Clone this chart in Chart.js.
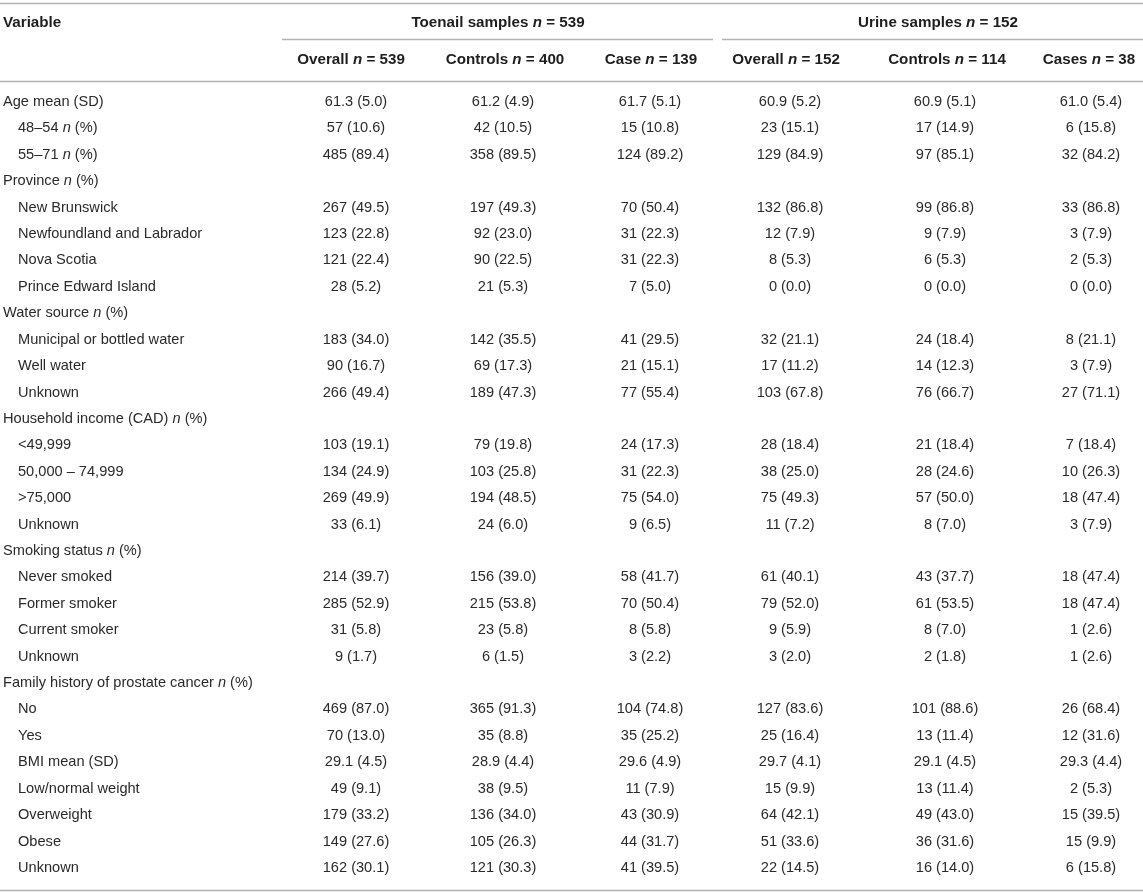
<!DOCTYPE html>
<html>
<head>
<meta charset="utf-8">
<script src="https://cdn.jsdelivr.net/npm/chart.js@4.4.1/dist/chart.umd.min.js"></script>
<style>
  html, body { margin: 0; padding: 0; background: #fff; }
  canvas { display: block; }
</style>
</head>
<body>
<canvas id="tableChart" width="1143" height="893"></canvas>
<script>
// table content
var rowLabels = [
    'Age mean (SD)', '48–54 n (%)', '55–71 n (%)',
    'Province n (%)', 'New Brunswick', 'Newfoundland and Labrador', 'Nova Scotia', 'Prince Edward Island',
    'Water source n (%)', 'Municipal or bottled water', 'Well water', 'Unknown',
    'Household income (CAD) n (%)', '<49,999', '50,000 – 74,999', '>75,000', 'Unknown',
    'Smoking status n (%)', 'Never smoked', 'Former smoker', 'Current smoker', 'Unknown',
    'Family history of prostate cancer n (%)', 'No', 'Yes', 'BMI mean (SD)',
    'Low/normal weight', 'Overweight', 'Obese', 'Unknown'
];
// 0 = section row, 1 = indented sub row
var rowLevel = [0,1,1, 0,1,1,1,1, 0,1,1,1, 0,1,1,1,1, 0,1,1,1,1, 0,1,1,1,1,1,1,1];

var groupHeaders = ['Toenail samples n = 539', 'Urine samples n = 152'];
var columnHeaders = ['Overall n = 539', 'Controls n = 400', 'Case n = 139',
                     'Overall n = 152', 'Controls n = 114', 'Cases n = 38'];

var toenailOverall = ['61.3 (5.0)','57 (10.6)','485 (89.4)','','267 (49.5)','123 (22.8)','121 (22.4)','28 (5.2)','',
    '183 (34.0)','90 (16.7)','266 (49.4)','','103 (19.1)','134 (24.9)','269 (49.9)','33 (6.1)','',
    '214 (39.7)','285 (52.9)','31 (5.8)','9 (1.7)','','469 (87.0)','70 (13.0)','29.1 (4.5)',
    '49 (9.1)','179 (33.2)','149 (27.6)','162 (30.1)'];
var toenailControls = ['61.2 (4.9)','42 (10.5)','358 (89.5)','','197 (49.3)','92 (23.0)','90 (22.5)','21 (5.3)','',
    '142 (35.5)','69 (17.3)','189 (47.3)','','79 (19.8)','103 (25.8)','194 (48.5)','24 (6.0)','',
    '156 (39.0)','215 (53.8)','23 (5.8)','6 (1.5)','','365 (91.3)','35 (8.8)','28.9 (4.4)',
    '38 (9.5)','136 (34.0)','105 (26.3)','121 (30.3)'];
var toenailCases = ['61.7 (5.1)','15 (10.8)','124 (89.2)','','70 (50.4)','31 (22.3)','31 (22.3)','7 (5.0)','',
    '41 (29.5)','21 (15.1)','77 (55.4)','','24 (17.3)','31 (22.3)','75 (54.0)','9 (6.5)','',
    '58 (41.7)','70 (50.4)','8 (5.8)','3 (2.2)','','104 (74.8)','35 (25.2)','29.6 (4.9)',
    '11 (7.9)','43 (30.9)','44 (31.7)','41 (39.5)'];
var urineOverall = ['60.9 (5.2)','23 (15.1)','129 (84.9)','','132 (86.8)','12 (7.9)','8 (5.3)','0 (0.0)','',
    '32 (21.1)','17 (11.2)','103 (67.8)','','28 (18.4)','38 (25.0)','75 (49.3)','11 (7.2)','',
    '61 (40.1)','79 (52.0)','9 (5.9)','3 (2.0)','','127 (83.6)','25 (16.4)','29.7 (4.1)',
    '15 (9.9)','64 (42.1)','51 (33.6)','22 (14.5)'];
var urineControls = ['60.9 (5.1)','17 (14.9)','97 (85.1)','','99 (86.8)','9 (7.9)','6 (5.3)','0 (0.0)','',
    '24 (18.4)','14 (12.3)','76 (66.7)','','21 (18.4)','28 (24.6)','57 (50.0)','8 (7.0)','',
    '43 (37.7)','61 (53.5)','8 (7.0)','2 (1.8)','','101 (88.6)','13 (11.4)','29.1 (4.5)',
    '13 (11.4)','49 (43.0)','36 (31.6)','16 (14.0)'];
var urineCases = ['61.0 (5.4)','6 (15.8)','32 (84.2)','','33 (86.8)','3 (7.9)','2 (5.3)','0 (0.0)','',
    '8 (21.1)','3 (7.9)','27 (71.1)','','7 (18.4)','10 (26.3)','18 (47.4)','3 (7.9)','',
    '18 (47.4)','18 (47.4)','1 (2.6)','1 (2.6)','','26 (68.4)','12 (31.6)','29.3 (4.4)',
    '2 (5.3)','15 (39.5)','15 (9.9)','6 (15.8)'];

var valueColumns = [toenailOverall, toenailControls, toenailCases, urineOverall, urineControls, urineCases];

// layout (x in table-width units, y in row units)
var labelX = [3, 18];
var colX = [356, 503, 650, 790, 945, 1091];
var headX = [351, 505, 651, 786, 947, 1089];
var groupX = [498, 938];
var groupSpan = [[282, 713], [722, 1143]];
var FONT = '"Liberation Sans", Arial, sans-serif';
var SIZE = 14.6;
var HEAD_SIZE = 15.2;

function drawRich(ctx, text, x, y, align, bold, color) {
    var size = bold ? HEAD_SIZE : SIZE;
    var parts = text.split(/(\bn\b)/);
    var widths = [], total = 0;
    parts.forEach(function (p) {
        ctx.font = (p === 'n' ? 'italic ' : '') + (bold ? 'bold ' : '') + size + 'px ' + FONT;
        var w = ctx.measureText(p).width;
        widths.push(w);
        total += w;
    });
    var cx = align === 'center' ? x - total / 2 : x;
    ctx.fillStyle = color;
    ctx.textAlign = 'left';
    ctx.textBaseline = 'middle';
    parts.forEach(function (p, k) {
        ctx.font = (p === 'n' ? 'italic ' : '') + (bold ? 'bold ' : '') + size + 'px ' + FONT;
        ctx.fillText(p, cx, y);
        cx += widths[k];
    });
}

var tablePlugin = {
    id: 'tablePlugin',
    afterDatasetsDraw: function (chart) {
        var ctx = chart.ctx;
        var xs = chart.scales.x, ys = chart.scales.y;
        ctx.save();

        function hLine(row, x0, x1) {
            var py = Math.round(ys.getPixelForValue(row)) + 0.5;
            ctx.strokeStyle = '#b3b3b3';
            ctx.lineWidth = 1.6;
            ctx.beginPath();
            ctx.moveTo(xs.getPixelForValue(x0), py);
            ctx.lineTo(xs.getPixelForValue(x1), py);
            ctx.stroke();
        }
        hLine(-3.76, 0, 1143);
        groupSpan.forEach(function (s) { hLine(-2.374, s[0], s[1]); });
        hLine(-0.807, 0, 1143);
        hLine(29.837, 0, 1143);

        // headers
        drawRich(ctx, 'Variable', xs.getPixelForValue(labelX[0]), ys.getPixelForValue(-3.0), 'left', true, '#1e1e1e');
        groupHeaders.forEach(function (h, g) {
            drawRich(ctx, h, xs.getPixelForValue(groupX[g]), ys.getPixelForValue(-3.0), 'center', true, '#1e1e1e');
        });
        columnHeaders.forEach(function (h, c) {
            drawRich(ctx, h, xs.getPixelForValue(headX[c]), ys.getPixelForValue(-1.59), 'center', true, '#1e1e1e');
        });

        // cells, placed by the scatter points
        chart.data.datasets.forEach(function (ds, d) {
            var meta = chart.getDatasetMeta(d);
            meta.data.forEach(function (el, j) {
                var t = ds.data[j].text;
                if (t) drawRich(ctx, t, el.x, el.y, ds.align, false, '#2a2a2a');
            });
        });
        ctx.restore();
    }
};

document.addEventListener('DOMContentLoaded', function () {
    var datasets = [{
        label: 'Variable',
        align: 'left',
        data: rowLabels.map(function (t, i) { return { x: labelX[rowLevel[i]], y: i, text: t }; }),
        pointRadius: 0
    }];
    valueColumns.forEach(function (col, c) {
        datasets.push({
            label: columnHeaders[c],
            align: 'center',
            data: col.map(function (t, i) { return { x: colX[c], y: i, text: t }; }),
            pointRadius: 0
        });
    });

    var ctx = document.getElementById('tableChart').getContext('2d');
    new Chart(ctx, {
        type: 'scatter',
        data: { datasets: datasets },
        options: {
            responsive: false,
            animation: false,
            events: [],
            layout: { padding: 0 },
            plugins: { legend: { display: false }, tooltip: { enabled: false } },
            scales: {
                x: { type: 'linear', display: false, min: 0, max: 1143 },
                y: { type: 'linear', display: false, reverse: true, min: -3.862, max: 29.951 }
            }
        },
        plugins: [tablePlugin]
    });
});
</script>
</body>
</html>
